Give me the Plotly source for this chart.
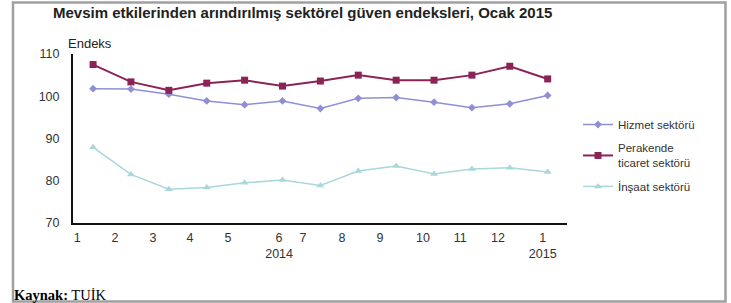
import plotly.graph_objects as go

# ---- data ----
months = ["1", "2", "3", "4", "5", "6", "7", "8", "9", "10", "11", "12", "1"]
tick_labels = ["1", "2", "3", "4", "5", "6<br>2014", "7", "8", "9", "10", "11", "12", "1<br>2015"]
hizmet = [101.8, 101.7, 100.5, 98.9, 98.0, 98.9, 97.1, 99.5, 99.7, 98.6, 97.3, 98.2, 100.2]
perakende = [107.5, 103.4, 101.4, 103.1, 103.8, 102.4, 103.6, 105.0, 103.8, 103.8, 105.0, 107.1, 104.1]
insaat = [87.9, 81.5, 78.0, 78.4, 79.5, 80.2, 78.9, 82.3, 83.5, 81.6, 82.8, 83.1, 82.1]
y_ticks = [70, 80, 90, 100, 110]

# positions (layout only)
idx = list(range(len(months)))
tick_pos = [-0.42, 0.58, 1.58, 2.56, 3.56, 4.91, 5.54, 6.57, 7.57, 8.71, 9.69, 10.69, 11.87]

W, H = 731, 303
L, R, T, B = 73, 567, 54, 223
pw, ph = R - L, B - T

def px(x):
    return (x - L) / pw

def py(y):
    return (B - y) / ph

fig = go.Figure()
fig.add_trace(go.Scatter(x=idx, y=hizmet, name="Hizmet sektörü", mode="lines+markers",
                         line=dict(color="#8f8fd6", width=1.5),
                         marker=dict(symbol="diamond", size=6, color="#8f8fd6"), legendgroup="a"))
fig.add_trace(go.Scatter(x=idx, y=perakende, name="Perakende<br>ticaret sektörü", mode="lines+markers",
                         line=dict(color="#8c2357", width=2),
                         marker=dict(symbol="square", size=7, color="#8c2357"), legendgroup="b"))
fig.add_trace(go.Scatter(x=idx, y=insaat, name="İnşaat sektörü", mode="lines+markers",
                         line=dict(color="#a9d7dc", width=1.5),
                         marker=dict(symbol="triangle-up", size=7, color="#a9d7dc"), legendgroup="c"))

fig.update_layout(
    width=W, height=H,
    margin=dict(l=L, r=W - R, t=T, b=H - B),
    paper_bgcolor="white", plot_bgcolor="white",
    font=dict(family="Liberation Sans, Arial", size=12, color="#333333"),
    showlegend=True,
    legend=dict(x=px(578), y=py(110), xanchor="left", yanchor="top",
                font=dict(size=11.5, color="#333333"), tracegroupgap=5,
                itemwidth=30, bgcolor="rgba(0,0,0,0)"),
    xaxis=dict(range=[-0.53, 12.51], tickmode="array", tickvals=tick_pos, ticktext=tick_labels,
               showgrid=False, zeroline=False, showline=True, linecolor="#111111", linewidth=2,
               ticks="", ticklabelstandoff=2, tickfont=dict(size=12.5, color="#333333")),
    yaxis=dict(range=[70, 110], tickmode="array", tickvals=y_ticks, showgrid=False, zeroline=False,
               showline=True, linecolor="#111111", linewidth=2, ticks="", ticklabelstandoff=9,
               tickfont=dict(size=12.5, color="#333333")),
)

fig.add_shape(type="rect", xref="paper", yref="paper",
              x0=px(13), x1=px(725.5), y0=py(301.5), y1=py(2.5),
              line=dict(color="#a0a0a0", width=2.5), fillcolor="rgba(0,0,0,0)", layer="below")

fig.add_annotation(text="<b>Mevsim etkilerinden arındırılmış sektörel güven endeksleri, Ocak 2015</b>",
                   xref="paper", yref="paper", x=px(302), y=py(12), xanchor="center", yanchor="middle",
                   showarrow=False, font=dict(size=15, color="#222222", family="Liberation Sans, Arial"))
fig.add_annotation(text="Endeks", xref="paper", yref="paper", x=px(66), y=py(44),
                   xanchor="left", yanchor="middle", showarrow=False,
                   font=dict(size=13, color="#222222"))
fig.add_annotation(text="<b>Kaynak:</b> TUİK", xref="paper", yref="paper", x=px(12), y=py(294.5),
                   xanchor="left", yanchor="middle", showarrow=False,
                   font=dict(size=14.5, color="#000000", family="Liberation Serif, Times New Roman"))

fig.write_html("out.html", config={"displayModeBar": False},
               post_script="document.body.style.margin='0';document.body.style.overflow='hidden';")
